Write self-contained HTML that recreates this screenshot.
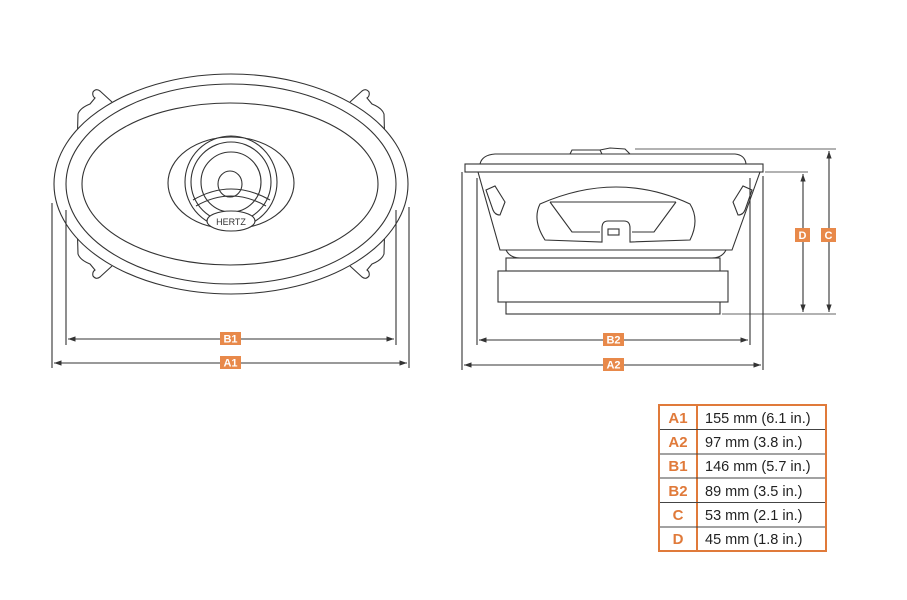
<!DOCTYPE html>
<html><head><style>
body{margin:0;background:#fff;width:907px;height:600px;overflow:hidden;font-family:"Liberation Sans",sans-serif}
svg{position:absolute;left:0;top:0}
</style></head><body>
<svg width="907" height="600" viewBox="0 0 907 600">
<defs><marker id="a" viewBox="0 0 10 10" refX="10" refY="5" markerWidth="7" markerHeight="7" orient="auto-start-reverse"><path d="M0,1.5L10,5L0,8.5z" fill="#333"/></marker></defs>
<g fill="none" stroke="#333" stroke-width="1.1">
<!-- front view flange with tabs -->
<path d="M112,102 L100,91 Q96,88 93,92 Q92,96 95,98 L90,104 Q80,108 78,114 L77,150"/>
<path d="M350,102 L362,91 Q366,88 369,92 Q370,96 367,98 L372,104 Q382,108 384,114 L385,150"/>
<path d="M112,266 L100,277 Q96,280 93,276 Q92,272 95,270 L90,264 Q80,260 78,254 L77,218"/>
<path d="M350,266 L362,277 Q366,280 369,276 Q370,272 367,270 L372,264 Q382,260 384,254 L385,218"/>
<ellipse cx="231" cy="184" rx="177" ry="110" fill="#fff"/>
<ellipse cx="231" cy="184" rx="165" ry="100"/>
<ellipse cx="230" cy="184" rx="148" ry="81"/>
<ellipse cx="231" cy="183" rx="63" ry="46"/>
<circle cx="231" cy="182" r="46"/>
<circle cx="231" cy="182" r="40"/>
<circle cx="231" cy="182" r="30"/>
<ellipse cx="230" cy="184" rx="12" ry="13"/>
<path d="M193,200 Q231,178 270,200"/>
<path d="M196,206 Q231,186 266,206"/>
<ellipse cx="231" cy="221" rx="24" ry="10" fill="#fff"/>
<!-- dims front -->
<line x1="66" y1="210" x2="66" y2="345"/><line x1="396" y1="210" x2="396" y2="345"/>
<line x1="52" y1="203" x2="52" y2="368"/><line x1="409" y1="207" x2="409" y2="368"/>
<line x1="68" y1="339" x2="394" y2="339" marker-start="url(#a)" marker-end="url(#a)"/>
<line x1="54" y1="363" x2="407" y2="363" marker-start="url(#a)" marker-end="url(#a)"/>
<!-- side view -->
<path d="M480,164 Q482,155 495,154 L735,154 Q745,155 746,164"/>
<path d="M570,154 L572,150 L600,150 L602,154 M600,150 L610,148 L625,149 L630,154"/>
<line x1="635" y1="149" x2="836" y2="149" stroke-width="0.8"/>
<rect x="465" y="164" width="298" height="8" fill="#fff"/>
<path d="M478,172 L500,250 L732,250 L760,172"/>
<path d="M486,190 L495,186 L505,202 L500,215 Q495,215 493,210 Z"/>
<path d="M752,190 L743,186 L733,202 L738,215 Q743,215 745,210 Z"/>
<path d="M540,204 Q617,170 690,204 Q700,220 690,240 L630,242 L630,228 Q630,221 624,221 L608,221 Q602,221 602,228 L602,242 L545,240 Q532,220 540,204 Z"/>
<path d="M550,202 L676,202 M550,202 L572,232 L600,232 M676,202 L654,232 L632,232"/>
<rect x="608" y="229" width="11" height="6"/>
<path d="M506,250 Q510,258 520,258 L712,258 Q722,258 726,250"/>
<rect x="506" y="258" width="214" height="56"/>
<rect x="498" y="271" width="230" height="31" fill="#fff"/>
<!-- dims side -->
<line x1="765" y1="172" x2="808" y2="172" stroke-width="0.8"/>
<line x1="722" y1="314" x2="836" y2="314" stroke-width="0.8"/>
<line x1="803" y1="174" x2="803" y2="312" marker-start="url(#a)" marker-end="url(#a)"/>
<line x1="829" y1="151" x2="829" y2="312" marker-start="url(#a)" marker-end="url(#a)"/>
<line x1="462" y1="172" x2="462" y2="370"/><line x1="763" y1="176" x2="763" y2="370"/>
<line x1="477" y1="178" x2="477" y2="345"/><line x1="750" y1="178" x2="750" y2="345"/>
<line x1="479" y1="340" x2="748" y2="340" marker-start="url(#a)" marker-end="url(#a)"/>
<line x1="464" y1="365" x2="761" y2="365" marker-start="url(#a)" marker-end="url(#a)"/>
</g>
<text x="231" y="225" font-size="9" text-anchor="middle" fill="#333">HERTZ</text>
<g font-size="11" font-weight="bold" fill="#fff" text-anchor="middle">
<rect x="220" y="332" width="21" height="13" fill="#e8894a"/><text x="230.5" y="342.5">B1</text>
<rect x="220" y="356" width="21" height="13" fill="#e8894a"/><text x="230.5" y="366.5">A1</text>
<rect x="603" y="333" width="21" height="13" fill="#e8894a"/><text x="613.5" y="343.5">B2</text>
<rect x="603" y="358" width="21" height="13" fill="#e8894a"/><text x="613.5" y="368.5">A2</text>
<rect x="795" y="228" width="15" height="14" fill="#e8894a"/><text x="802.5" y="239">D</text>
<rect x="821" y="228" width="15" height="14" fill="#e8894a"/><text x="828.5" y="239">C</text>
</g>
<!-- table -->
<g stroke-width="1">
<rect x="659" y="405" width="167" height="146" fill="#fff" stroke="#e07a3a" stroke-width="2"/>
<line x1="697" y1="405" x2="697" y2="551" stroke="#e07a3a" stroke-width="2"/>
<g stroke="#444">
<line x1="660" y1="429.5" x2="825" y2="429.5"/><line x1="660" y1="454" x2="825" y2="454"/>
<line x1="660" y1="478" x2="825" y2="478"/><line x1="660" y1="502.5" x2="825" y2="502.5"/>
<line x1="660" y1="527" x2="825" y2="527"/>
</g>
</g>
<g font-size="15" font-weight="bold" fill="#e07a3a" text-anchor="middle">
<text x="678" y="423">A1</text><text x="678" y="447">A2</text><text x="678" y="471">B1</text>
<text x="678" y="496">B2</text><text x="678" y="520">C</text><text x="678" y="544">D</text>
</g>
<g font-size="14.5" fill="#222">
<text x="705" y="423">155 mm (6.1 in.)</text><text x="705" y="447">97 mm (3.8 in.)</text>
<text x="705" y="471">146 mm (5.7 in.)</text><text x="705" y="496">89 mm (3.5 in.)</text>
<text x="705" y="520">53 mm (2.1 in.)</text><text x="705" y="544">45 mm (1.8 in.)</text>
</g>
</svg>
</body></html>
